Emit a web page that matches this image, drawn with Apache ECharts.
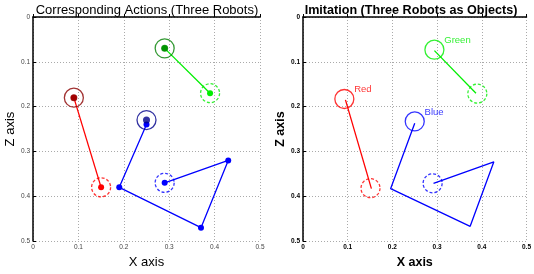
<!DOCTYPE html>
<html>
<head>
<meta charset="utf-8">
<script src="https://cdn.jsdelivr.net/npm/echarts@6/dist/echarts.min.js"></script>
<style>
    html, body { margin: 0; padding: 0; background: #fff; }
    #chart { width: 534px; height: 274px; }
</style>
</head>
<body>
<div id="chart"></div>
<script>
// ticks for both axes
var tickValues = [0, 0.1, 0.2, 0.3, 0.4, 0.5];

// left panel: corresponding actions
var leftRedPath = [[0.09, 0.18], [0.15, 0.38]];
var leftGreenPath = [[0.29, 0.07], [0.39, 0.17]];
var leftBluePath = [[0.25, 0.24], [0.19, 0.38], [0.37, 0.47], [0.43, 0.32], [0.29, 0.37]];
var leftStart = { red: [0.09, 0.18], green: [0.29, 0.07], blue: [0.25, 0.23] };
var leftEnd = { red: [0.15, 0.38], green: [0.39, 0.17], blue: [0.29, 0.37] };

// right panel: imitation
var rightRedPath = [[0.095, 0.185], [0.153, 0.383]];
var rightGreenPath = [[0.294, 0.075], [0.387, 0.17]];
var rightBluePath = [[0.25, 0.237], [0.196, 0.383], [0.374, 0.467], [0.427, 0.323], [0.292, 0.371]];
var rightStart = { red: [0.0925, 0.183], green: [0.294, 0.073], blue: [0.25, 0.233] };
var rightEnd = { red: [0.151, 0.382], green: [0.39, 0.171], blue: [0.29, 0.371] };
var rightNames = { red: 'Red', green: 'Green', blue: 'Blue' };

var colors = {
    red: { light: '#ff0000', dark: '#8b0000' },
    green: { light: '#00ee00', dark: '#008000' },
    blue: { light: '#0000ff', dark: '#00008b' }
};

var chart = echarts.init(document.getElementById('chart'));

function makeX (idx, bold) {
    return {
        type: 'value', gridIndex: idx, min: 0, max: 0.5, interval: 0.1,
        name: 'X axis', nameLocation: 'middle', nameGap: 10,
        nameTextStyle: { fontSize: bold ? 12.5 : 13, color: '#000', fontWeight: bold ? 'bold' : 'normal', fontFamily: 'Liberation Sans' },
        axisLine: { show: true, lineStyle: { color: '#000', width: 1.5 } },
        axisTick: { show: true, inside: true, length: 3, lineStyle: { color: '#000' } },
        axisLabel: { fontSize: 6.5, margin: 3, color: bold ? '#000' : '#444', fontWeight: bold ? 'bold' : 'normal', fontFamily: 'Liberation Sans' },
        splitLine: { show: true, lineStyle: { color: '#aaa', type: [1, 2], width: 1 } }
    };
}
function makeY (idx, bold) {
    return {
        type: 'value', gridIndex: idx, min: 0, max: 0.5, interval: 0.1, inverse: true,
        name: 'Z axis', nameLocation: 'middle', nameGap: bold ? 14 : 16, nameRotate: 90,
        nameTextStyle: { fontSize: bold ? 12.5 : 13, color: '#000', fontWeight: bold ? 'bold' : 'normal', fontFamily: 'Liberation Sans' },
        axisLine: { show: true, lineStyle: { color: '#000', width: 1.5 } },
        axisTick: { show: true, inside: true, length: 3, lineStyle: { color: '#000' } },
        axisLabel: { fontSize: 6.5, margin: 3, color: bold ? '#000' : '#444', fontWeight: bold ? 'bold' : 'normal', fontFamily: 'Liberation Sans' },
        splitLine: { show: true, lineStyle: { color: '#aaa', type: [1, 2], width: 1 } }
    };
}

var series = [];
['red', 'green', 'blue'].forEach(function (c) {
    var paths = { red: leftRedPath, green: leftGreenPath, blue: leftBluePath };
    var rpaths = { red: rightRedPath, green: rightGreenPath, blue: rightBluePath };
    // left: path with dots
    series.push({
        type: 'line', xAxisIndex: 0, yAxisIndex: 0, data: paths[c],
        symbol: 'circle', symbolSize: 6, showSymbol: true,
        lineStyle: { color: colors[c].light, width: 1.3 },
        itemStyle: { color: colors[c].light }, silent: true, z: 3
    });
    // left: start circle + dark dot
    series.push({
        type: 'scatter', xAxisIndex: 0, yAxisIndex: 0, data: [leftStart[c]],
        symbol: 'circle', symbolSize: 19,
        itemStyle: { color: 'transparent', borderColor: colors[c].dark, borderWidth: 1.3 }, z: 4
    });
    series.push({
        type: 'scatter', xAxisIndex: 0, yAxisIndex: 0, data: [leftStart[c]],
        symbol: 'circle', symbolSize: 7,
        itemStyle: { color: colors[c].dark }, z: 5
    });
    // left: dashed end circle
    series.push({
        type: 'scatter', xAxisIndex: 0, yAxisIndex: 0, data: [leftEnd[c]],
        symbol: 'circle', symbolSize: 19,
        itemStyle: { color: 'transparent', borderColor: colors[c].light, borderWidth: 1.3, borderType: [3, 2] }, z: 4
    });
    // right: path, no dots
    series.push({
        type: 'line', xAxisIndex: 1, yAxisIndex: 1, data: rpaths[c],
        symbol: 'none',
        lineStyle: { color: colors[c].light, width: 1.3 }, silent: true, z: 3
    });
    // right: start circle with name
    series.push({
        type: 'scatter', xAxisIndex: 1, yAxisIndex: 1, data: [rightStart[c]],
        symbol: 'circle', symbolSize: 19,
        itemStyle: { color: 'transparent', borderColor: colors[c].light, borderWidth: 1.3 },
        label: {
            show: true, position: [20, -4], formatter: rightNames[c],
            color: colors[c].light, fontSize: 9.5, fontFamily: 'Liberation Sans'
        }, z: 4
    });
    // right: dashed end circle
    series.push({
        type: 'scatter', xAxisIndex: 1, yAxisIndex: 1, data: [rightEnd[c]],
        symbol: 'circle', symbolSize: 19,
        itemStyle: { color: 'transparent', borderColor: colors[c].light, borderWidth: 1.3, borderType: [3, 2] }, z: 4
    });
});

var option = {
    animation: false,
    title: [
        { text: 'Corresponding Actions (Three Robots)', left: 142, top: -1, textAlign: 'center',
          textStyle: { fontSize: 13, fontWeight: 'normal', color: '#000', fontFamily: 'Liberation Sans' } },
        { text: 'Imitation (Three Robots as Objects)', left: 406, top: -1, textAlign: 'center',
          textStyle: { fontSize: 12.6, fontWeight: 'bold', color: '#000', fontFamily: 'Liberation Sans' } }
    ],
    grid: [
        { left: 33, top: 17, width: 227, height: 226 },
        { left: 303, top: 17, width: 227, height: 226 }
    ],
    xAxis: [makeX(0, false), makeX(1, true)],
    yAxis: [makeY(0, false), makeY(1, true)],
    series: series
};

chart.setOption(option);
window.addEventListener('resize', function () {
    chart.resize();
});
</script>
</body>
</html>
